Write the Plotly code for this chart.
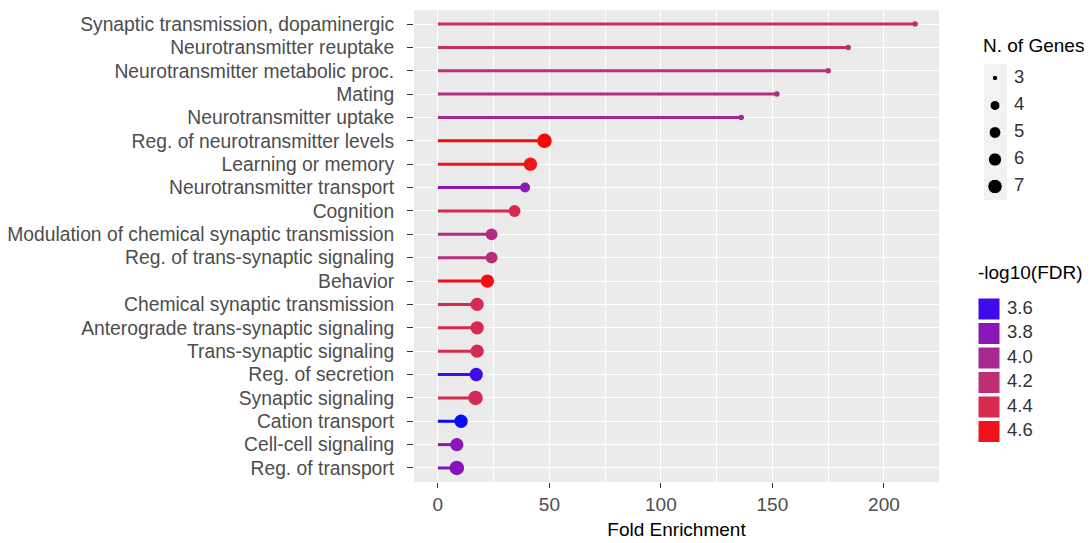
import math
import plotly.graph_objects as go

# GO terms, ordered top to bottom
terms = [
    "Synaptic transmission, dopaminergic",
    "Neurotransmitter reuptake",
    "Neurotransmitter metabolic proc.",
    "Mating",
    "Neurotransmitter uptake",
    "Reg. of neurotransmitter levels",
    "Learning or memory",
    "Neurotransmitter transport",
    "Cognition",
    "Modulation of chemical synaptic transmission",
    "Reg. of trans-synaptic signaling",
    "Behavior",
    "Chemical synaptic transmission",
    "Anterograde trans-synaptic signaling",
    "Trans-synaptic signaling",
    "Reg. of secretion",
    "Synaptic signaling",
    "Cation transport",
    "Cell-cell signaling",
    "Reg. of transport",
]
fold_enrichment = [214, 184, 175, 152, 136, 47.8, 41.5, 39.1, 34.4, 24.1,
                   24.1, 22.2, 17.6, 17.6, 17.6, 17.2, 16.9, 10.4, 8.5, 8.5]
n_genes = [3, 3, 3, 3, 3, 7, 6, 4, 5, 5, 5, 6, 6, 6, 6, 6, 7, 6, 6, 7]
neg_log10_fdr = [4.28, 4.26, 4.18, 4.12, 4.00, 4.63, 4.60, 3.82, 4.42, 4.10,
                 4.15, 4.62, 4.40, 4.40, 4.40, 3.60, 4.38, 3.57, 3.80, 3.78]

size_breaks = [3, 4, 5, 6, 7]
color_breaks = [3.6, 3.8, 4.0, 4.2, 4.4, 4.6]
color_break_labels = ["3.6", "3.8", "4.0", "4.2", "4.4", "4.6"]

FONT = "Liberation Sans, Arial, Helvetica, sans-serif"
W, H = 1092, 543


# ---- colour scale: blue -> red interpolated in CIELAB ----
def _lin(c):
    return c / 12.92 if c <= 0.04045 else ((c + 0.055) / 1.055) ** 2.4


def _gam(c):
    c = min(max(c, 0.0), 1.0)
    return 12.92 * c if c <= 0.0031308 else 1.055 * c ** (1 / 2.4) - 0.055


WHITE = (0.95047, 1.0, 1.08883)


def hex_to_lab(h):
    r, g, b = (_lin(int(h[i:i + 2], 16) / 255) for i in (1, 3, 5))
    x = 0.4124 * r + 0.3576 * g + 0.1805 * b
    y = 0.2126 * r + 0.7152 * g + 0.0722 * b
    z = 0.0193 * r + 0.1192 * g + 0.9505 * b
    def f(t):
        return t ** (1 / 3) if t > 216 / 24389 else (24389 / 27 * t + 16) / 116
    fx, fy, fz = f(x / WHITE[0]), f(y / WHITE[1]), f(z / WHITE[2])
    return 116 * fy - 16, 500 * (fx - fy), 200 * (fy - fz)


def lab_to_rgb(L, a, b):
    fy = (L + 16) / 116
    fx = fy + a / 500
    fz = fy - b / 200
    def finv(t):
        return t ** 3 if t ** 3 > 216 / 24389 else (116 * t - 16) * 27 / 24389
    x, y, z = finv(fx) * WHITE[0], finv(fy) * WHITE[1], finv(fz) * WHITE[2]
    r = 3.2406 * x - 1.5372 * y - 0.4986 * z
    g = -0.9689 * x + 1.8758 * y + 0.0415 * z
    bb = 0.0557 * x - 0.2040 * y + 1.0570 * z
    return [_gam(c) * 255 for c in (r, g, bb)]


LOW, HIGH = hex_to_lab("#0000FF"), hex_to_lab("#FF0000")
MUTE = 0.08       # general softening toward grey
MID_MUTE = 0.20   # extra chroma reduction in the middle of the ramp
c_min, c_max = min(neg_log10_fdr), max(neg_log10_fdr)


def fdr_color(v):
    t = (v - c_min) / (c_max - c_min)
    t = min(max(t, 0), 1)
    L, a, b = [lo + (hi - lo) * t for lo, hi in zip(LOW, HIGH)]
    k = 1 - MID_MUTE * math.sin(math.pi * t)
    rgb = lab_to_rgb(L, a * k, b * k)
    rgb = [c * (1 - MUTE) + 128 * MUTE for c in rgb]
    return "#%02X%02X%02X" % tuple(round(c) for c in rgb)


# ---- size scale: area-proportional ----
s_min, s_max = min(size_breaks), max(size_breaks)


def gene_size(n):
    t = ((n - s_min) / (s_max - s_min)) ** 0.5
    return 1.8 * (1 + 5 * t) + 3.7


colors = [fdr_color(v) for v in neg_log10_fdr]
sizes = [gene_size(n) for n in n_genes]

fig = go.Figure()

# lollipop stems
for term, fe, col in zip(terms, fold_enrichment, colors):
    fig.add_trace(go.Scatter(
        x=[0, fe], y=[term, term], mode="lines",
        line=dict(color=col, width=3), hoverinfo="skip", showlegend=False,
    ))

# lollipop heads
fig.add_trace(go.Scatter(
    x=fold_enrichment, y=terms, mode="markers",
    marker=dict(color=colors, size=sizes, opacity=1, line=dict(width=0)),
    showlegend=False,
))

# ---- legend keys in a pixel-based side panel ----
gene_key_y = [78, 105.5, 132.5, 159.5, 186.5]
fig.add_trace(go.Scatter(
    x=[995] * len(size_breaks), y=gene_key_y, mode="markers",
    marker=dict(color="black", opacity=1,
                size=[gene_size(n) for n in size_breaks]),
    xaxis="x2", yaxis="y2", showlegend=False, hoverinfo="skip",
))
fig.add_trace(go.Scatter(
    x=[1014] * len(size_breaks), y=gene_key_y, mode="text",
    text=[str(n) for n in size_breaks], textposition="middle right",
    textfont=dict(family=FONT, size=18.5, color="#333333"),
    xaxis="x2", yaxis="y2", showlegend=False, hoverinfo="skip",
))

fdr_key_y = [309, 333.5, 358, 382.5, 407, 431.5]
fig.add_trace(go.Scatter(
    x=[989] * len(color_breaks), y=fdr_key_y, mode="markers",
    marker=dict(symbol="square", size=21, opacity=1,
                color=[fdr_color(v) for v in color_breaks]),
    xaxis="x2", yaxis="y2", showlegend=False, hoverinfo="skip",
))
fig.add_trace(go.Scatter(
    x=[1007] * len(color_breaks), y=fdr_key_y, mode="text",
    text=color_break_labels, textposition="middle right",
    textfont=dict(family=FONT, size=18.5, color="#333333"),
    xaxis="x2", yaxis="y2", showlegend=False, hoverinfo="skip",
))

# panel background
fig.add_shape(type="rect", xref="x domain", yref="y domain",
              x0=0, x1=1, y0=0, y1=1, fillcolor="#EBEBEB",
              line=dict(width=0), layer="below")
# size legend key background
fig.add_shape(type="rect", xref="x2", yref="y2", x0=984, x1=1007,
              y0=64, y1=200, fillcolor="#F2F2F2", line=dict(width=0),
              layer="below")

fig.add_annotation(text="N. of Genes", xref="x2", yref="y2", x=981, y=45,
                   xanchor="left", yanchor="middle", showarrow=False,
                   font=dict(family=FONT, size=19, color="black"))
fig.add_annotation(text="-log10(FDR)", xref="x2", yref="y2", x=976, y=272,
                   xanchor="left", yanchor="middle", showarrow=False,
                   font=dict(family=FONT, size=19, color="black"))

span = max(fold_enrichment)
x_lo, x_hi = -0.05 * span, span * 1.05
n = len(terms)

fig.update_layout(
    width=W, height=H,
    margin=dict(l=0, r=0, t=0, b=0),
    paper_bgcolor="white", plot_bgcolor="rgba(0,0,0,0)",
    font=dict(family=FONT),
    xaxis=dict(
        domain=[414 / W, 939 / W], range=[x_lo, x_hi],
        tickvals=[0, 50, 100, 150, 200],
        showgrid=True, gridcolor="white", gridwidth=1.4, zeroline=False,
        minor=dict(dtick=25, tick0=0, showgrid=True, gridcolor="white",
                   gridwidth=0.7, ticks=""),
        ticks="outside", ticklen=5, tickwidth=1.2, tickcolor="#333333",
        tickfont=dict(family=FONT, size=19, color="#4D4D4D"),
        title=dict(text="Fold Enrichment", standoff=8,
                   font=dict(family=FONT, size=19, color="black")),
        showline=False, fixedrange=True,
    ),
    yaxis=dict(
        domain=[1 - 482 / H, 1 - 10 / H],
        type="category", categoryorder="array", categoryarray=terms,
        range=[n - 0.4, -0.6],
        showgrid=True, gridcolor="white", gridwidth=1.4, zeroline=False,
        ticks="outside", ticklen=6, tickwidth=1.2, tickcolor="#333333",
        ticklabelstandoff=9,
        tickfont=dict(family=FONT, size=19.3, color="#4D4D4D"),
        showline=False, fixedrange=True,
    ),
    xaxis2=dict(domain=[960 / W, 1], range=[960, W], anchor="y2",
                visible=False, fixedrange=True),
    yaxis2=dict(domain=[0, 1], range=[H, 0], anchor="x2",
                visible=False, fixedrange=True),
    showlegend=False,
)

fig.write_html("out.html")
